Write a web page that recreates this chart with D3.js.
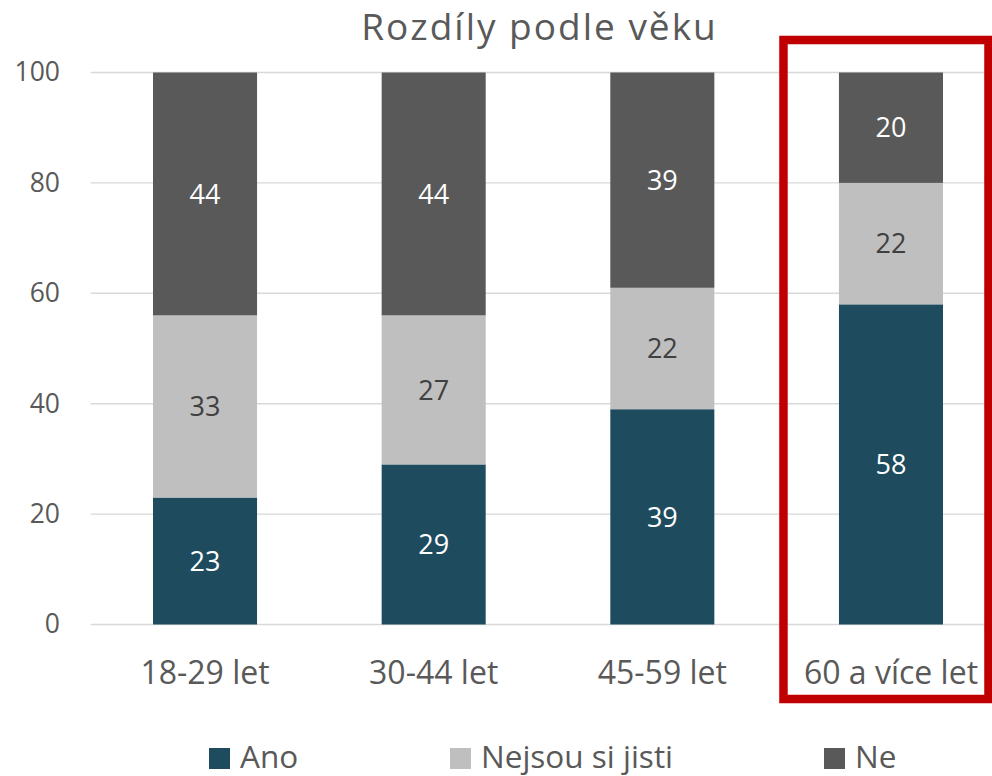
<!DOCTYPE html>
<html>
<head>
<meta charset="utf-8">
<script src="https://cdn.jsdelivr.net/npm/d3@7"></script>
<style>
  html, body { margin: 0; padding: 0; background: #fff; }
  svg { display: block; font-family: "Open Sans", "Noto Sans", sans-serif; }
</style>
</head>
<body>
<svg id="chart" width="992" height="776"></svg>
<script>
// Age groups and the share of each answer (%)
const categories = ["18-29 let", "30-44 let", "45-59 let", "60 a více let"];
const seriesNames = ["Ano", "Nejsou si jisti", "Ne"];
const ano = [23, 29, 39, 58];
const nejsou = [33, 27, 22, 22];
const ne = [44, 44, 39, 20];
const yTicks = [0, 20, 40, 60, 80, 100];
const titleText = "Rozdíly podle věku";
const highlighted = "60 a více let";

const colors = ["#1E4B5E", "#BFBFBF", "#595959"];
const labelColors = ["#FFFFFF", "#404040", "#FFFFFF"];

const rows = categories.map((c, i) => ({ cat: c, "Ano": ano[i], "Nejsou si jisti": nejsou[i], "Ne": ne[i] }));
const stacked = d3.stack().keys(seriesNames)(rows);

const svg = d3.select("#chart");

const x = d3.scaleBand()
  .domain(categories)
  .range([90.7, 1005.3])
  .paddingInner(0.545)
  .paddingOuter(0.2725);

const y = d3.scaleLinear().domain([0, 100]).range([624.5, 72.5]);

// Title
svg.append("text")
  .attr("x", 539.5).attr("y", 39.5)
  .attr("text-anchor", "middle")
  .attr("font-size", 37)
  .attr("letter-spacing", 2)
  .attr("fill", "#595959")
  .text(titleText);

// Gridlines
svg.append("g").selectAll("line").data(yTicks).join("line")
  .attr("x1", 90.7).attr("x2", 1005.3)
  .attr("y1", d => y(d)).attr("y2", d => y(d))
  .attr("stroke", "#D9D9D9").attr("stroke-width", 1.4);

// Y axis labels
const yAxis = svg.append("g")
  .attr("transform", "translate(66,0)")
  .call(d3.axisLeft(y).tickValues(yTicks).tickSize(0).tickPadding(6));
yAxis.select(".domain").remove();
yAxis.selectAll("text")
  .attr("font-family", "'Open Sans', sans-serif")
  .attr("font-size", 26.5)
  .attr("fill", "#595959");

// Stacked bars
const layers = svg.append("g").selectAll("g").data(stacked).join("g")
  .attr("fill", (d, i) => colors[i]);
layers.selectAll("rect").data(d => d).join("rect")
  .attr("x", d => x(d.data.cat))
  .attr("width", x.bandwidth())
  .attr("y", d => y(d[1]))
  .attr("height", d => y(d[0]) - y(d[1]));

// Value labels in the middle of each segment
const labelLayers = svg.append("g").selectAll("g").data(stacked).join("g")
  .attr("fill", (d, i) => labelColors[i]);
labelLayers.selectAll("text").data(d => d).join("text")
  .attr("x", d => x(d.data.cat) + x.bandwidth() / 2)
  .attr("y", d => y((d[0] + d[1]) / 2))
  .attr("dy", "0.36em")
  .attr("text-anchor", "middle")
  .attr("font-size", 27)
  .text(d => d[1] - d[0]);

// Category axis labels
const xAxis = svg.append("g")
  .attr("transform", "translate(0,624.5)")
  .call(d3.axisBottom(x).tickSize(0).tickPadding(0));
xAxis.select(".domain").remove();
xAxis.selectAll("text")
  .attr("y", 59.5).attr("dy", null)
  .attr("font-family", "'Open Sans', sans-serif")
  .attr("font-size", 32)
  .attr("fill", "#595959");

// Highlight frame around the oldest group
const hx = x(highlighted) + x.bandwidth() / 2;
svg.append("rect")
  .attr("x", hx - 107.5).attr("y", 40)
  .attr("width", 205).attr("height", 659)
  .attr("fill", "none")
  .attr("stroke", "#C00000")
  .attr("stroke-width", 8.5);

// Legend
const legendX = [209, 450, 824];
const legend = svg.append("g").selectAll("g").data(seriesNames).join("g")
  .attr("transform", (d, i) => `translate(${legendX[i]},0)`);
legend.append("rect")
  .attr("x", 0).attr("y", 748)
  .attr("width", 21).attr("height", 21)
  .attr("fill", (d, i) => colors[i]);
legend.append("text")
  .attr("x", 31).attr("y", 768)
  .attr("font-size", 31.5)
  .attr("fill", "#595959")
  .text(d => d);
</script>
</body>
</html>
